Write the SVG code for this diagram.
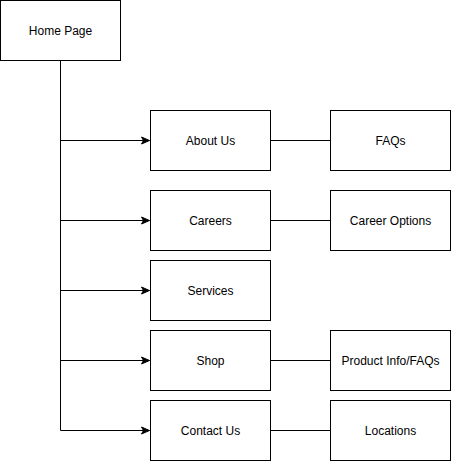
<svg xmlns="http://www.w3.org/2000/svg" width="451" height="461" viewBox="0 0 451 461">
<style>
.box{fill:#fff;stroke:#000;stroke-width:1}
.lbl{font-family:"Liberation Sans",Arial,sans-serif;font-size:12px;fill:#000;text-anchor:middle;dominant-baseline:central}
.ln{fill:none;stroke:#000;stroke-width:1}
</style>
<defs>
<marker id="arr" markerWidth="10" markerHeight="10" refX="9" refY="5" orient="auto" markerUnits="userSpaceOnUse">
<path d="M1,1.5 L9,5 L1,8.5 L3,5 Z" fill="#000" stroke="#000" stroke-width="1"/>
</marker>
</defs>
<rect width="451" height="461" fill="#fff"/>
<g id="connectors">
<path class="ln" d="M60.5,60.5 V430.5"/>
<path class="ln" d="M60.5,140.5 H149.5" marker-end="url(#arr)"/>
<path class="ln" d="M60.5,220.5 H149.5" marker-end="url(#arr)"/>
<path class="ln" d="M60.5,290.5 H149.5" marker-end="url(#arr)"/>
<path class="ln" d="M60.5,360.5 H149.5" marker-end="url(#arr)"/>
<path class="ln" d="M60.5,430.5 H149.5" marker-end="url(#arr)"/>
<path class="ln" d="M270.5,140.5 H330.5"/>
<path class="ln" d="M270.5,220.5 H330.5"/>
<path class="ln" d="M270.5,360.5 H330.5"/>
<path class="ln" d="M270.5,430.5 H330.5"/>
</g>
<g id="home"><rect class="box" x="0.5" y="0.5" width="120" height="60"/><text class="lbl" x="60.5" y="30.5">Home Page</text></g>
<g id="about"><rect class="box" x="150.5" y="110.5" width="120" height="60"/><text class="lbl" x="210.5" y="140.5">About Us</text></g>
<g id="careers"><rect class="box" x="150.5" y="190.5" width="120" height="60"/><text class="lbl" x="210.5" y="220.5">Careers</text></g>
<g id="services"><rect class="box" x="150.5" y="260.5" width="120" height="60"/><text class="lbl" x="210.5" y="290.5">Services</text></g>
<g id="shop"><rect class="box" x="150.5" y="330.5" width="120" height="60"/><text class="lbl" x="210.5" y="360.5">Shop</text></g>
<g id="contact"><rect class="box" x="150.5" y="400.5" width="120" height="60"/><text class="lbl" x="210.5" y="430.5">Contact Us</text></g>
<g id="faqs"><rect class="box" x="330.5" y="110.5" width="120" height="60"/><text class="lbl" x="390.5" y="140.5">FAQs</text></g>
<g id="careeropts"><rect class="box" x="330.5" y="190.5" width="120" height="60"/><text class="lbl" x="390.5" y="220.5">Career Options</text></g>
<g id="product"><rect class="box" x="330.5" y="330.5" width="120" height="60"/><text class="lbl" x="390.5" y="360.5">Product Info/FAQs</text></g>
<g id="locations"><rect class="box" x="330.5" y="400.5" width="120" height="60"/><text class="lbl" x="390.5" y="430.5">Locations</text></g>
</svg>
